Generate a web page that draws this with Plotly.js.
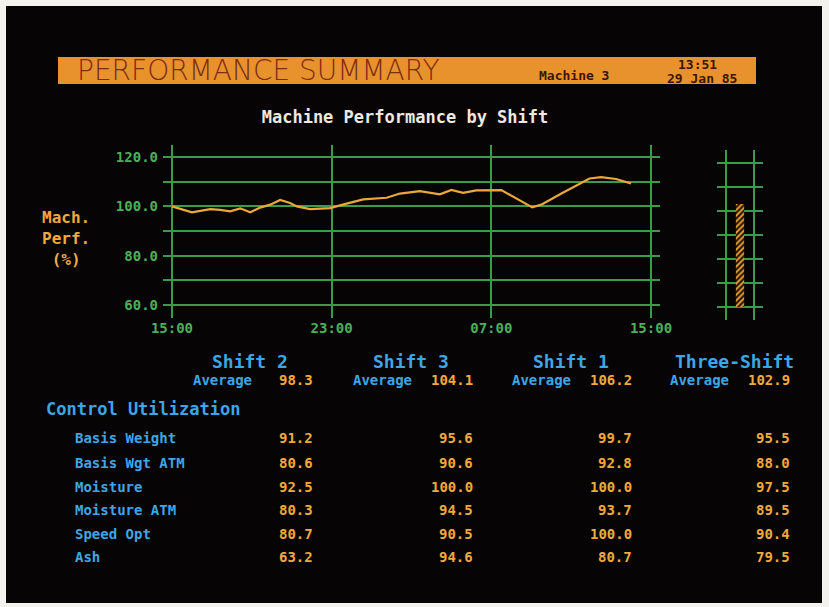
<!DOCTYPE html>
<html>
<head>
<meta charset="utf-8">
<script src="https://cdn.plot.ly/plotly-3.0.1.min.js"></script>
<style>html,body{margin:0;padding:0;background:#f4f2ec;}#chart{width:829px;height:607px;}</style>
</head>
<body>
<div id="chart"></div>
<script>
// ---- data ----
const hours = [0, 0.5, 1.0, 1.42, 1.92, 2.42, 2.92, 3.42, 3.92, 4.42, 4.92, 5.42, 5.92, 6.25, 6.92, 7.42, 7.92,
               8.75, 9.58, 10.75, 11.42, 12.42, 12.92, 13.42, 14.0, 14.58, 15.25, 16.5, 18.05, 18.5, 19.58, 20.92, 21.5, 22.25, 23.0];
const machPerf = [100.0, 98.9, 97.6, 98.2, 98.9, 98.6, 98.0, 99.2, 97.6, 99.5, 100.7, 102.6, 101.4, 100.0, 98.9, 99.1, 99.3,
                  101.1, 102.8, 103.5, 105.2, 106.2, 105.7, 104.9, 106.7, 105.5, 106.5, 106.6, 99.6, 100.7, 105.5, 111.3, 111.9, 111.1, 109.3];
const timeTickVals = [0, 8, 16, 24];
const timeTickText = ["15:00", "23:00", "07:00", "15:00"];
const perfTickVals = [60, 70, 80, 90, 100, 110, 120];
const perfTickText = ["60.0", "", "80.0", "", "100.0", "", "120.0"];

const shiftNames = ["Shift 2", "Shift 3", "Shift 1", "Three-Shift"];
const shiftAverages = ["98.3", "104.1", "106.2", "102.9"];
const threeShiftAverage = 102.9;
const barBase = 60;

const controlLabels = ["Basis Weight", "Basis Wgt ATM", "Moisture", "Moisture ATM", "Speed Opt", "Ash"];
const shift2Values = ["91.2", "80.6", "92.5", "80.3", "80.7", "63.2"];
const shift3Values = ["95.6", "90.6", "100.0", "94.5", "90.5", "94.6"];
const shift1Values = ["99.7", "92.8", "100.0", "93.7", "100.0", "80.7"];
const threeShiftValues = ["95.5", "88.0", "97.5", "89.5", "90.4", "79.5"];

// ---- layout helpers ----
const W = 829, H = 607;
const px = x => x / W;
const py = y => 1 - y / H;
const MONO = "DejaVu Sans Mono";
const BLUE = "#3ea6e6", ORANGE = "#f2a93b", GREEN = "#4caf5a", GRID = "#3c9a4b";

const annotations = [];
function ann(text, x, y, opts) {
  annotations.push(Object.assign({
    text: text, x: px(x), y: py(y), xref: "paper", yref: "paper",
    showarrow: false, xanchor: "left", yanchor: "middle",
    font: {family: MONO, size: 14, color: ORANGE, weight: "bold"}
  }, opts || {}));
}

// header bar texts
ann("PERFORMANCE SUMMARY", 75, 70, {font: {family: "DejaVu Sans", size: 28, color: "#7a2e12", weight: 200}});
ann("Machine 3", 537, 76, {font: {family: MONO, size: 13, color: "#3a1606", weight: "bold"}});
ann("13:51", 719, 65, {xanchor: "right", font: {family: MONO, size: 13, color: "#3a1606", weight: "bold"}});
ann("29 Jan 85", 739, 78, {xanchor: "right", font: {family: MONO, size: 13, color: "#3a1606", weight: "bold"}});

// y label
ann("Mach.<br>Perf.<br>(%)", 66, 239, {xanchor: "center", font: {family: MONO, size: 16, color: ORANGE, weight: "bold"}});

// shift headers
const colRight = [315, 475, 634, 792];
const headerCenter = [250, 411, 571, 734];
shiftNames.forEach((s, i) => {
  ann(s, headerCenter[i], 361, {xanchor: "center", font: {family: MONO, size: 18, color: BLUE, weight: "bold"}});
  ann("Average", colRight[i] - 61, 380, {xanchor: "right", font: {family: MONO, size: 14, color: BLUE, weight: "bold"}});
  ann(shiftAverages[i], colRight[i], 380, {xanchor: "right"});
});

ann("Control Utilization", 44, 409, {font: {family: MONO, size: 17, color: BLUE, weight: "bold"}});

const rowY = [438, 463, 487, 510, 534, 557];
const cols = [shift2Values, shift3Values, shift1Values, threeShiftValues];
controlLabels.forEach((lab, r) => {
  ann(lab, 73, rowY[r], {font: {family: MONO, size: 14, color: BLUE, weight: "bold"}});
  cols.forEach((vals, c) => ann(vals[r], colRight[c], rowY[r], {xanchor: "right"}));
});

const shapes = [
  // CRT screen
  {type: "rect", xref: "paper", yref: "paper", x0: px(6), x1: px(822), y0: py(603), y1: py(6),
   fillcolor: "#060404", line: {width: 0}, layer: "below"},
  // header bar
  {type: "rect", xref: "paper", yref: "paper", x0: px(58), x1: px(756), y0: py(84), y1: py(57),
   fillcolor: "#e8922e", line: {width: 0}, layer: "below"}
];

const traces = [
  {type: "scatter", mode: "lines", x: hours, y: machPerf, xaxis: "x", yaxis: "y",
   line: {color: "#eaa83a", width: 2.2}, hoverinfo: "skip"},
  {type: "bar", x: [0.5], y: [threeShiftAverage - barBase], base: [barBase], width: [0.18],
   xaxis: "x2", yaxis: "y2",
   marker: {color: "#e8a030", line: {width: 0},
            pattern: {shape: "/", fgcolor: "#e8a030", bgcolor: "#1a0d04", size: 4, solidity: 0.5}},
   hoverinfo: "skip"}
];

const axisCommon = {showline: false, zeroline: false, ticks: "", gridcolor: GRID, gridwidth: 2, fixedrange: true};

const layout = {
  width: W, height: H,
  margin: {l: 0, r: 0, t: 0, b: 0},
  paper_bgcolor: "#f4f2ec",
  plot_bgcolor: "rgba(0,0,0,0)",
  showlegend: false,
  title: {text: "Machine Performance by Shift", x: px(405), y: py(117), xanchor: "center", yanchor: "middle",
          xref: "paper", yref: "paper",
          font: {family: MONO, size: 17, color: "#eee9e0", weight: "bold"}},
  xaxis: Object.assign({}, axisCommon, {
    domain: [px(163), px(660)], range: [-0.45, 24.45],
    tickmode: "array", tickvals: timeTickVals, ticktext: timeTickText,
    tickfont: {family: MONO, size: 14, color: GREEN, weight: "bold"}
  }),
  yaxis: Object.assign({}, axisCommon, {
    domain: [py(318), py(145)], range: [54.7, 124.9],
    tickmode: "array", tickvals: perfTickVals, ticktext: perfTickText,
    tickfont: {family: MONO, size: 14, color: GREEN, weight: "bold"},
    ticklabelstandoff: 4
  }),
  xaxis2: Object.assign({}, axisCommon, {
    domain: [px(717), px(763)], range: [0, 1], anchor: "y2",
    tickmode: "array", tickvals: [0.196, 0.804], showticklabels: false
  }),
  yaxis2: Object.assign({}, axisCommon, {
    domain: [py(320), py(150)], range: [54.6, 125.4], anchor: "x2",
    tickmode: "array", tickvals: perfTickVals, showticklabels: false
  }),
  shapes: shapes,
  annotations: annotations
};

Plotly.newPlot("chart", traces, layout, {displayModeBar: false, staticPlot: true});
</script>
</body>
</html>
